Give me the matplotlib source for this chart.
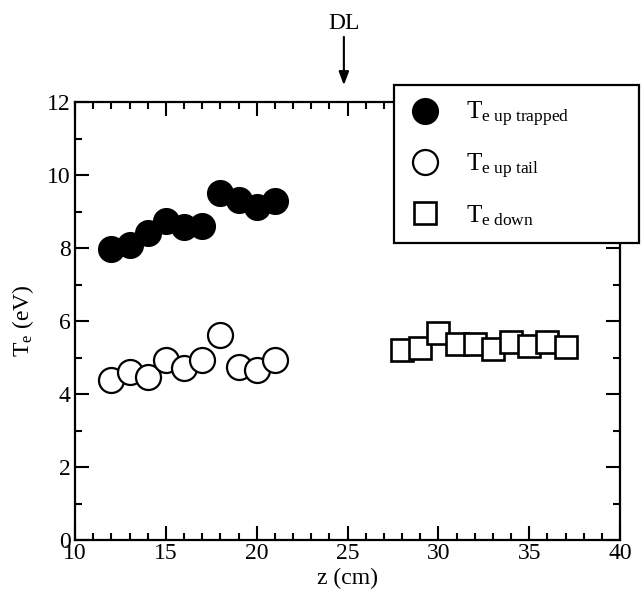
import matplotlib
matplotlib.use("Agg")
import matplotlib.pyplot as plt
from matplotlib.ticker import MultipleLocator

plt.rcParams['font.family'] = ['Liberation Serif', 'DejaVu Serif']
plt.rcParams['mathtext.fontset'] = 'custom'
plt.rcParams['mathtext.rm'] = 'Liberation Serif'
plt.rcParams['mathtext.it'] = 'Liberation Serif:italic'

z_up = [12, 13, 14, 15, 16, 17, 18, 19, 20, 21]
te_trapped = [7.98, 8.07, 8.41, 8.74, 8.57, 8.60, 9.51, 9.32, 9.12, 9.30]
te_tail = [4.37, 4.60, 4.46, 4.92, 4.71, 4.92, 5.61, 4.74, 4.67, 4.92]
z_down = [28, 29, 30, 31, 32, 33, 34, 35, 36, 37]
te_down = [5.21, 5.27, 5.66, 5.38, 5.38, 5.24, 5.42, 5.31, 5.42, 5.29]

fig = plt.figure(figsize=(6.41, 6.03), dpi=100)
ax = fig.add_axes([75/641, 1-540/603, (620-75)/641, (540-102)/603])

ax.plot(z_up, te_trapped, 'o', ms=18, mfc='black', mec='black', mew=1.5,
        label=r'$\mathregular{T_{e\ up\ trapped}}$', linestyle='none')
ax.plot(z_up, te_tail, 'o', ms=18, mfc='white', mec='black', mew=1.6,
        label=r'$\mathregular{T_{e\ up\ tail}}$', linestyle='none')
ax.plot(z_down, te_down, 's', ms=16, mfc='white', mec='black', mew=1.9,
        label=r'$\mathregular{T_{e\ down}}$', linestyle='none')

ax.set_xlim(10, 40)
ax.set_ylim(0, 12)
ax.xaxis.set_major_locator(MultipleLocator(5))
ax.xaxis.set_minor_locator(MultipleLocator(1))
ax.yaxis.set_major_locator(MultipleLocator(2))
ax.yaxis.set_minor_locator(MultipleLocator(1))
ax.tick_params(which='both', direction='in', top=True, right=True, width=1.5, labelsize=17)
ax.tick_params(which='major', length=10)
ax.tick_params(which='minor', length=5)
ax.tick_params(axis='x', pad=2)
ax.tick_params(axis='y', pad=3)
for s in ax.spines.values():
    s.set_linewidth(1.6)

ax.set_xlabel('z (cm)', fontsize=17, labelpad=3)
ax.set_ylabel(r'$\mathregular{T_e}$ (eV)', fontsize=17, labelpad=8)

leg = ax.legend(loc='upper left',
                bbox_to_anchor=(394/641, 1-237/603, (639-394)/641, (237-85)/603),
                bbox_transform=fig.transFigure, mode='expand', borderaxespad=0,
                fancybox=False, framealpha=1, edgecolor='black', fontsize=18,
                labelspacing=0.9, handletextpad=1.0, borderpad=0.6, handlelength=1.3)
leg.get_frame().set_linewidth(1.6)

ax.annotate('', xy=(24.8, 1.032), xycoords=('data', 'axes fraction'),
            xytext=(24.8, 1.155), textcoords=('data', 'axes fraction'),
            arrowprops=dict(arrowstyle='-|>,head_width=0.3,head_length=0.8', color='black', lw=1.5),
            annotation_clip=False)
ax.text(24.8, 1.18, 'DL', transform=ax.get_xaxis_transform(), ha='center', va='center', fontsize=17)

fig.savefig('out.png', dpi=100)
